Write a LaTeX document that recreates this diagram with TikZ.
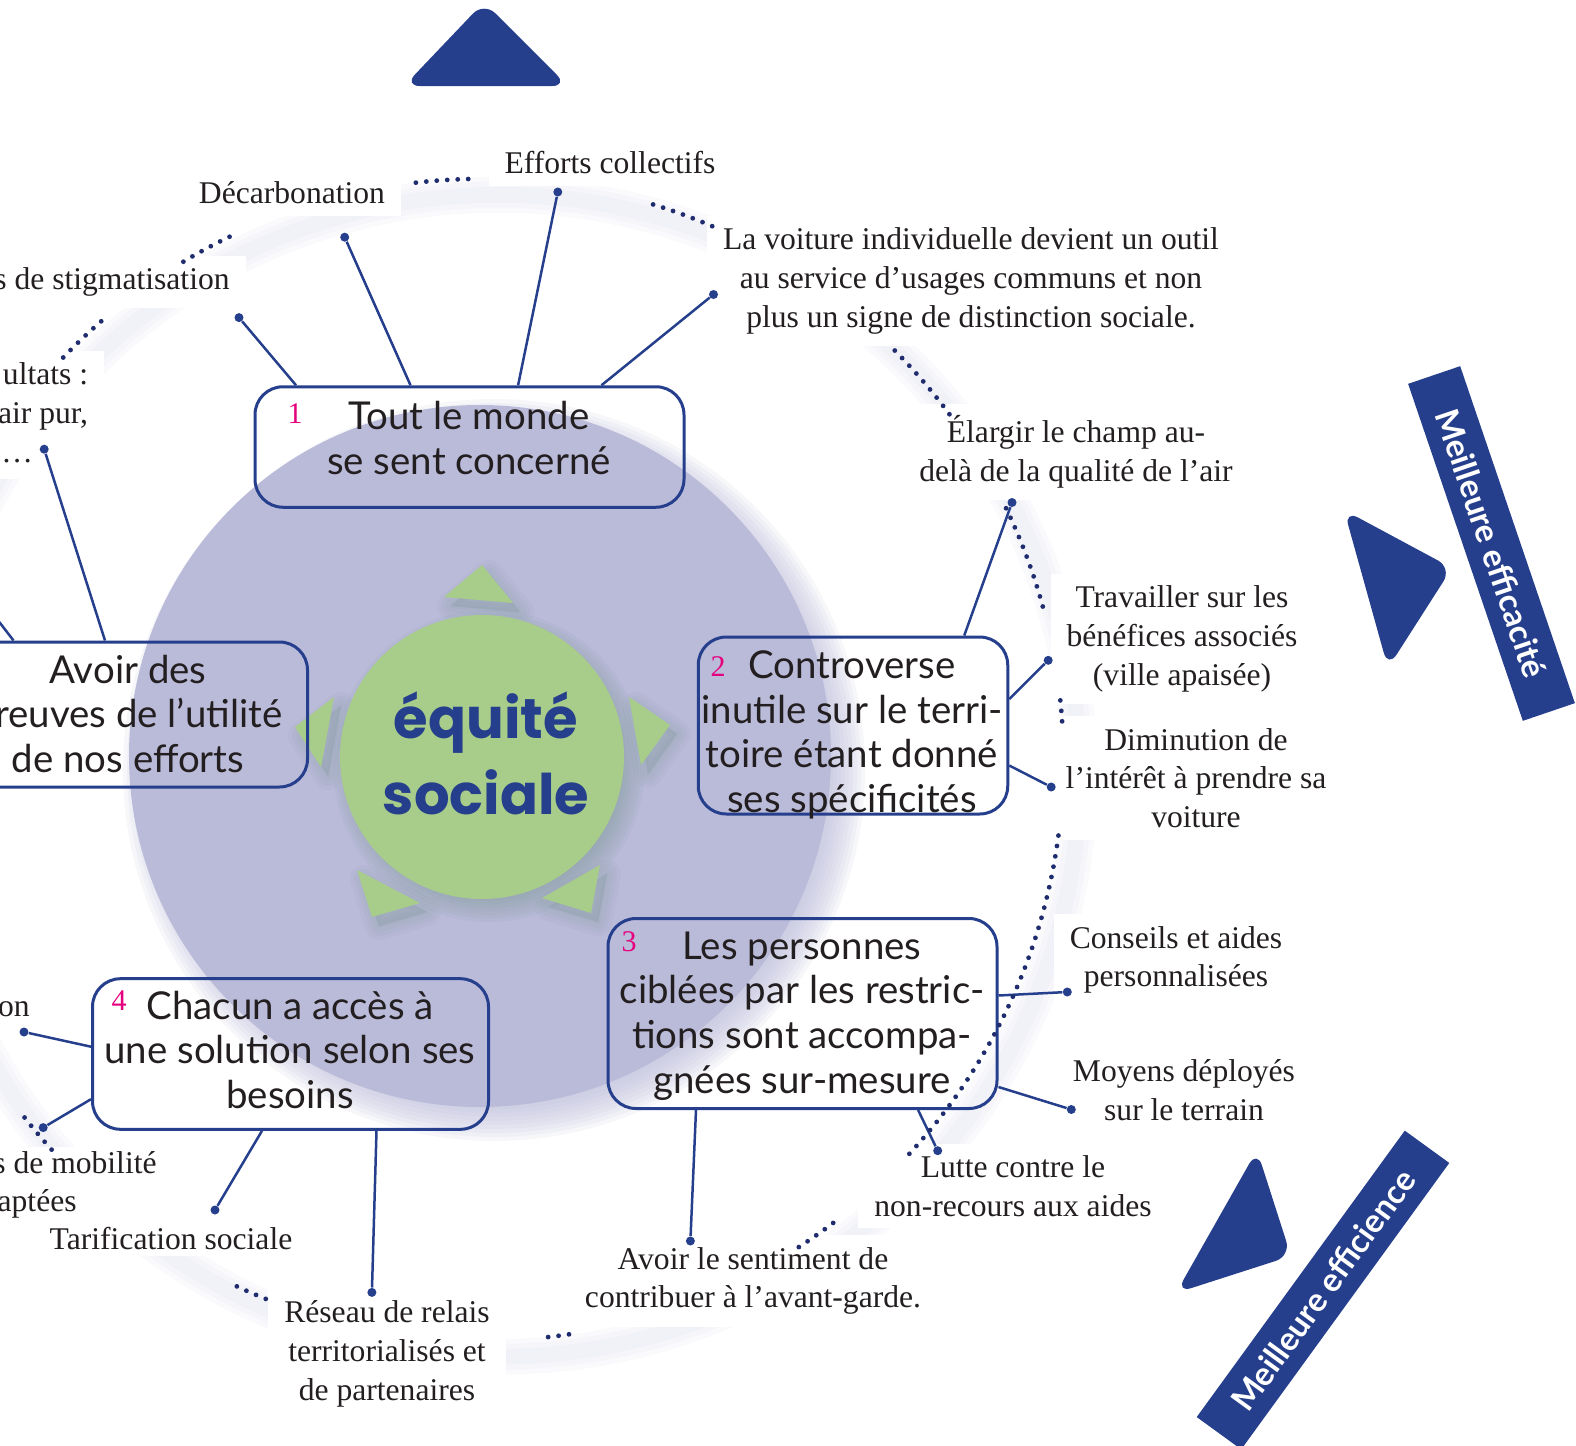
\documentclass[tikz,border=0pt]{standalone}
\usepackage{fontspec}
\setmainfont{Liberation Serif}
\newfontfamily\boxfont{Lato}
\newfontfamily\hubfont{Poppins}
\usetikzlibrary{calc}

\definecolor{navy}{HTML}{263F8C}
\definecolor{dotblue}{HTML}{1F2C6E}
\definecolor{disk}{HTML}{BABAD9}
\definecolor{halo}{HTML}{C8C8E2}
\definecolor{leaf}{HTML}{A8CD8B}
\definecolor{leafshade}{HTML}{7E9D9B}
\definecolor{ink}{HTML}{231F20}
\definecolor{numpink}{HTML}{E5007E}

\tikzset{
  theme/.style={draw=navy, line width=1.5pt, rounded corners=14pt, inner sep=0pt},
  themetext/.style={font=\boxfont\fontsize{19.2}{22.3}\selectfont, text=ink, align=center, inner sep=0pt},
  num/.style={font=\fontsize{15}{15}\selectfont, text=numpink, inner sep=0pt},
  lab/.style={font=\fontsize{15.8}{19.35}\selectfont, text=ink, align=center, fill=white, inner xsep=8pt, inner ysep=6pt},
  tip/.style={circle, fill=navy, inner sep=0pt, minimum size=4.5pt},
  link/.style={navy, line width=1.25pt},
  dotring/.style={dotblue, line width=2.4pt, line cap=round, dash pattern=on 0pt off 5.25pt},
  banner/.style={fill=navy, text=white, font=\boxfont\bfseries\fontsize{16.5}{16.5}\selectfont, inner sep=0pt},
  pointer/.style={fill=navy, rounded corners=8pt},
  petal/.style={fill=leaf},
}

\begin{document}
\begin{tikzpicture}[x=0.5pt,y=-0.5pt]
\useasboundingbox (0,0) rectangle (1576,1446);
\clip (0,0) rectangle (1576,1446);
\coordinate (C) at (482.4,759.8);

% soft halo under the outer dotted ring
\foreach \w in {18,13,8}
  \draw[halo, line width=\w pt, opacity=0.09] ($(C)+(16,16)$) circle (581);

% lavender disk with its soft shadow
\foreach \k in {0,...,9}
  \fill[disk, opacity=0.12] (494,770) circle ({371-4*\k});
\fill[disk] (480,756) circle (351);

% shadows of the green hub and its five petals
\foreach \k in {0,...,7}
  \fill[leafshade, opacity=0.09] (489,766) circle ({156-3.5*\k});
\begin{scope}[shift={(7,9)}]
\foreach \pa/\pb/\pc in {{(444,597)}/{(482,565)}/{(513,603)},
                          {(629,697)}/{(670,725)}/{(641,765)},
                          {(334,697)}/{(295,727)}/{(321,767)},
                          {(357,870)}/{(420,903)}/{(372,917)},
                          {(600,865)}/{(591,913)}/{(542,898)}}
  \foreach \w in {14,10,6,2}
    \filldraw[leafshade, opacity=0.08, line width=\w pt, line join=round] \pa -- \pb -- \pc -- cycle;
\end{scope}

% green petals and hub
\foreach \pa/\pb/\pc in {{(444,597)}/{(482,565)}/{(513,603)},
                          {(629,697)}/{(670,725)}/{(641,765)},
                          {(334,697)}/{(295,727)}/{(321,767)},
                          {(357,870)}/{(420,903)}/{(372,917)},
                          {(600,865)}/{(591,913)}/{(542,898)}}
  \fill[petal] \pa -- \pb -- \pc -- cycle;
\fill[leaf] (482,757) circle (142);
\node[font=\hubfont\bfseries\fontsize{28}{38}\selectfont, text=navy, align=center, inner sep=0pt] (hub) at (486,753) {équité\\sociale};

% blue pointers
\fill[pointer] (484,2) -- (568,86) -- (404,86) -- cycle;
\fill[pointer] (1344,510) -- (1452,568) -- (1388,668) -- cycle;
\fill[pointer] (1257,1150) -- (1291,1256) -- (1176,1293) -- cycle;

% banners
\node[banner, rotate=-71.2, minimum width=178pt, minimum height=27.5pt] (ban1) at (1491.5,543.5) {Meilleure efficacité};
\node[banner, rotate=54, minimum width=177pt, minimum height=27.5pt] (ban2) at (1323,1290) {Meilleure efficience};

% theme boxes
\node[theme, minimum width=214.5pt, minimum height=60.25pt] (b1) at (469.5,447) {};
\node[theme, minimum width=154.75pt, minimum height=88.5pt] (b2) at (853,725.5) {};
\node[theme, minimum width=194.5pt, minimum height=95pt] (b3) at (802.5,1013.5) {};
\node[theme, minimum width=198pt, minimum height=75.3pt] (b4) at (290.5,1054) {};
\node[theme, minimum width=179.5pt, minimum height=72.5pt] (b5) at (128,714.5) {};

\node[themetext] (t1) at (469,438) {Tout le monde\\se sent concerné};
\node[themetext] (t2) at (852,735) {Controverse\\inutile sur le terri-\\toire étant donné\\ses spécificités};
\node[themetext] (t3) at (802,1016) {Les personnes\\ciblées par les restric-\\tions sont accompa-\\gnées sur-mesure};
\node[themetext] (t4) at (290,1050) {Chacun a accès à\\une solution selon ses\\besoins};
\node[themetext] (t5) at (128,714) {Avoir des\\preuves de l’utilité\\de nos efforts};

\node[num] (n1) at (295,414) {1};
\node[num] (n2) at (718,667) {2};
\node[num] (n3) at (629,942) {3};
\node[num] (n4) at (119,1001) {4};

% leaf labels
\node[lab] (l1) at (610,163) {Efforts collectifs};
\node[lab] (l2) at (292,193) {Décarbonation};
\node[lab, anchor=east] (l3) at (246,282) {s de stigmatisation};
\node[lab, anchor=east, align=right] (l4) at (104.5,415) {ultats :\\air pur,\\, …\rule{27.5pt}{0pt}};
\node[lab] (l5) at (971,281) {La voiture individuelle devient un outil\\au service d’usages communs et non\\plus un signe de distinction sociale.};
\node[lab] (l6) at (1076,452) {Élargir le champ au-\\delà de la qualité de l’air};
\node[lab] (l7) at (1182,639) {Travailler sur les\\bénéfices associés\\(ville apaisée)};
\node[lab] (l8) at (1196,778) {Diminution de\\l’intérêt à prendre sa\\voiture};
\node[lab] (l9) at (1176,960) {Conseils et aides\\personnalisées};
\node[lab] (l10) at (1184,1090) {Moyens déployés\\sur le terrain};
\node[lab] (l11) at (1013,1186) {Lutte contre le\\non-recours aux aides};
\node[lab] (l12) at (753,1281) {Avoir le sentiment de\\contribuer à l’avant-garde.};
\node[lab, anchor=east] (l15) at (46,1009) {on};
\node[lab, anchor=east, align=right, inner ysep=2pt] (l16) at (173,1185) {s de mobilité\\aptées\rule{40pt}{0pt}};
\node[lab, inner ysep=3pt] (l13) at (171,1239) {Tarification sociale};
\node[lab] (l14) at (387,1354) {Réseau de relais\\territorialisés et\\de partenaires};

% connector tips
\node[tip] (d1) at (239,317.6) {};
\node[tip] (d2) at (344.7,237.2) {};
\node[tip] (d3) at (557.8,192) {};
\node[tip] (d4) at (713.5,294.5) {};
\node[tip] (d5) at (44.2,449.2) {};
\node[tip] (d7) at (1012,502.5) {};
\node[tip] (d8) at (1048.2,660.3) {};
\node[tip] (d9) at (1051.2,787) {};
\node[tip] (d10) at (1067.3,992) {};
\node[tip] (d11) at (1071.3,1109.5) {};
\node[tip] (d12) at (937.7,1150.7) {};
\node[tip] (d13) at (690.4,1241) {};
\node[tip] (d14) at (24,1032) {};
\node[tip] (d15) at (43.2,1127.6) {};
\node[tip] (d16) at (215,1210) {};
\node[tip] (d17) at (371.9,1292.4) {};
\coordinate (e6) at (-20,597);

% connectors
\draw[link] ($(b1.north west)+(42.5,0)$) -- (d1);
\draw[link] ($(b1.north west)+(157,0)$) -- (d2);
\draw[link] ($(b1.north west)+(264.6,0)$) -- (d3);
\draw[link] ($(b1.north west)+(348,0)$) -- (d4);
\draw[link] ($(b5.north east)+(-204,0)$) -- (d5);
\draw[link] ($(b5.north east)+(-295.5,0)$) -- (e6);
\draw[link] ($(b2.north west)+(267.5,0)$) -- (d7);
\draw[link] ($(b2.north east)+(0,63.5)$) -- (d8);
\draw[link] ($(b2.north east)+(0,130)$) -- (d9);
\draw[link] ($(b3.north east)+(0,78.5)$) -- (d10);
\draw[link] ($(b3.north east)+(0,170)$) -- (d11);
\draw[link] ($(b3.south west)+(311.6,0)$) -- (d12);
\draw[link] ($(b3.south west)+(89.5,0)$) -- (d13);
\draw[link] ($(b4.north west)+(0,69.5)$) -- (d14);
\draw[link] ($(b4.north west)+(0,122)$) -- (d15);
\draw[link] ($(b4.south west)+(171,0)$) -- (d16);
\draw[link] ($(b4.south west)+(285.5,0)$) -- (d17);

% visible stretches of the outer dotted ring
\foreach \ta/\tb in {-91.4/-96.6, -66.7/-73, -115.8/-121.7, -131/-137, -36.5/-45,
                     -15.3/-26.5, -3.8/-6.8, 42.7/6.5, 57/52, 83.5/81, 115/111.4, 142/137.4}
  \draw[dotring] (C) ++(\ta:581) arc[start angle=\ta, end angle=\tb, radius=581];

\end{tikzpicture}
\end{document}
